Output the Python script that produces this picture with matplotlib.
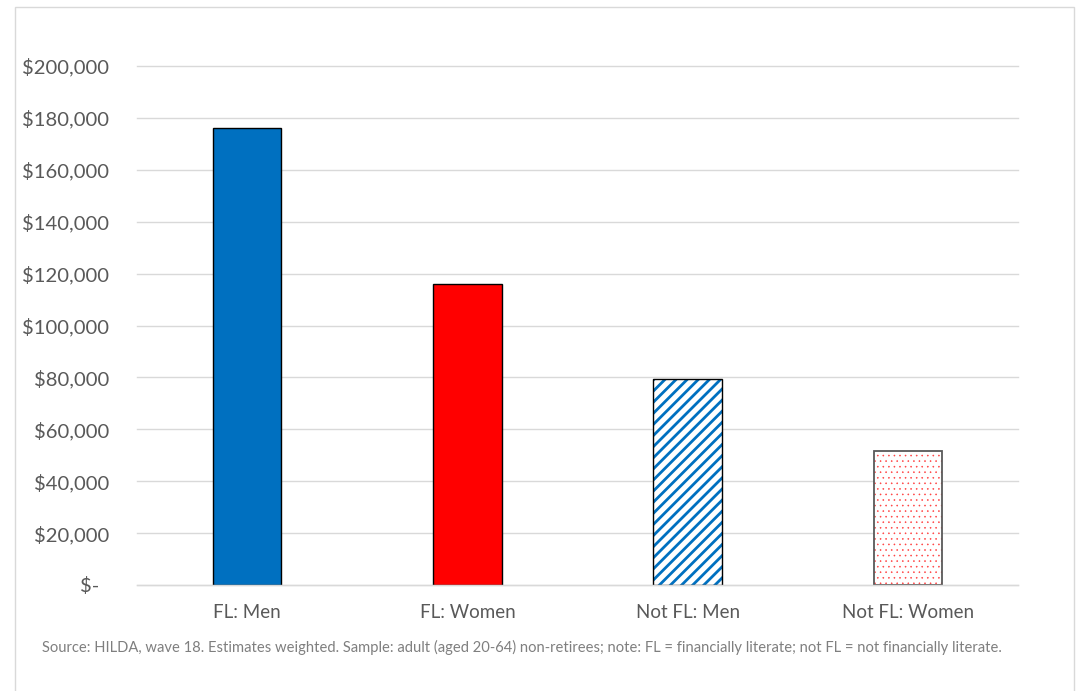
import matplotlib.pyplot as plt
from matplotlib.patches import Rectangle
from matplotlib.ticker import FuncFormatter

# Data
categories = ["FL: Men", "FL: Women", "Not FL: Men", "Not FL: Women"]
values = [176000, 116000, 79500, 51600]
yticks = [0, 20000, 40000, 60000, 80000, 100000, 120000, 140000, 160000, 180000, 200000]
source = ("Source: HILDA, wave 18. Estimates weighted. Sample: adult (aged 20-64) non-retirees; "
          "note: FL = financially literate; not FL = not financially literate.")

plt.rcParams['font.family'] = ['Lato', 'DejaVu Sans']
plt.rcParams['hatch.linewidth'] = 2.0

fig = plt.figure(figsize=(10.82, 6.91), dpi=100)
ax = fig.add_axes([137 / 1082, 1 - 585 / 691, 881 / 1082, (585 - 66) / 691])

x = list(range(len(categories)))
w = 0.31

# solid bars
ax.bar(x[0], values[0], w, color="#0070C0", edgecolor="black", linewidth=1, zorder=3)
ax.bar(x[1], values[1], w, color="#FF0000", edgecolor="black", linewidth=1, zorder=3)
# hatched bars: hatch drawn with edgecolor, outline drawn separately
ax.bar(x[2], values[2], w, color="white", edgecolor="#0070C0", hatch="///", linewidth=0, zorder=3)
ax.bar(x[2], values[2], w, color="none", edgecolor="black", linewidth=1, zorder=4)
plt.rcParams['hatch.linewidth'] = 0.4
ax.bar(x[3], values[3], w, color="white", edgecolor="#FF4040", hatch="...", linewidth=0, zorder=3)
ax.bar(x[3], values[3], w, color="none", edgecolor="#595959", linewidth=1.3, zorder=4)

ax.set_xlim(-0.5, 3.5)
ax.set_ylim(0, 200000)
ax.set_yticks(yticks)
ax.yaxis.set_major_formatter(FuncFormatter(lambda v, p: "$-  " if v == 0 else f"${v:,.0f}"))
ax.set_xticks(x)
ax.set_xticklabels(categories)
ax.tick_params(axis="x", length=0, labelsize=13.5, labelcolor="#595959", pad=14)
ax.tick_params(axis="y", length=0, labelsize=14.6, labelcolor="#595959", pad=20)

ax.grid(axis="y", color="#D9D9D9", linewidth=1, zorder=0)
ax.set_axisbelow(True)
for s in ["top", "right", "left"]:
    ax.spines[s].set_visible(False)
ax.spines["bottom"].set_color("#D9D9D9")
ax.spines["bottom"].set_linewidth(1)
ax.spines["bottom"].set_zorder(5)
for gl in ax.get_ygridlines():
    gl.set_clip_on(False)

fig.text(42 / 1082, 1 - 647 / 691, source, fontsize=10.6, color="#7F7F7F", va="center", ha="left")

# chart frame
fig.patches.append(Rectangle((15 / 1082, -0.05), 1059 / 1082, 1.05 - 7 / 691,
                             transform=fig.transFigure, fill=False,
                             edgecolor="#D9D9D9", linewidth=1))

fig.savefig("out.png", dpi=100)
